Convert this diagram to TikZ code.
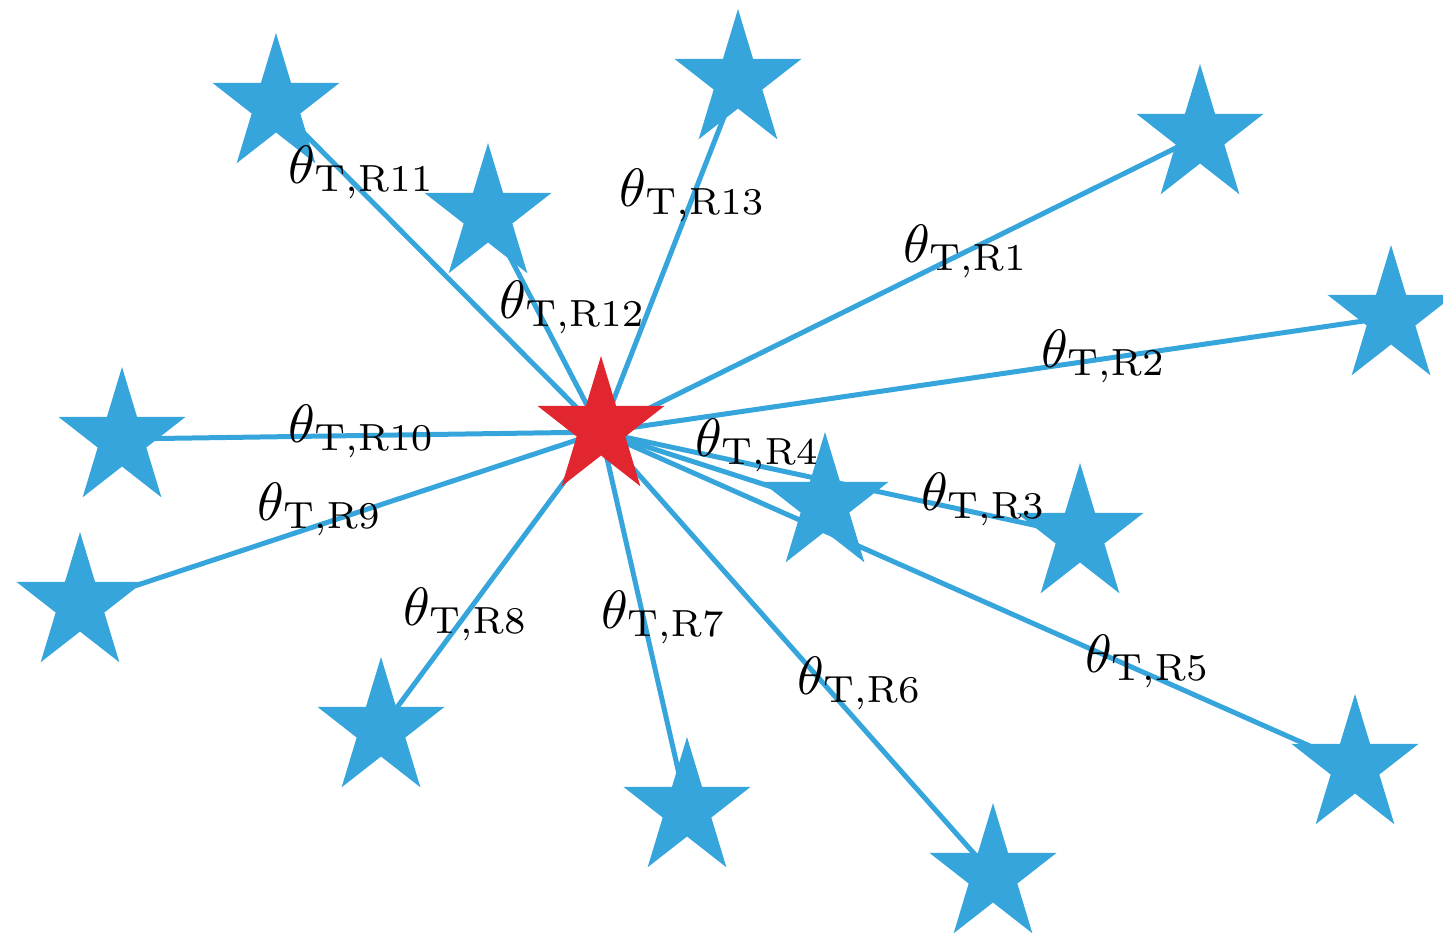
\documentclass[tikz,border=0pt]{standalone}
\usepackage{graphicx}
\usetikzlibrary{shapes.geometric,backgrounds}
\definecolor{starblue}{RGB}{54,165,220}
\definecolor{starred}{RGB}{226,38,48}
\tikzset{
  bstar/.style={star, star points=5, star point ratio=2.618, minimum size=72pt, inner sep=0pt, fill=starblue, draw=none, xscale=0.93, transform shape},
  rstar/.style={bstar, fill=starred},
  link/.style={draw=starblue, line width=2.5pt},
  lab/.style={inner sep=0pt}
}
\newcommand{\thlab}[1]{\scalebox{2.7}{$\theta_{\mathrm{T,R#1}}$}}
\begin{document}
\begin{tikzpicture}[x=0.5pt,y=-0.5pt]
\useasboundingbox (0,0) rectangle (1443,934);
\coordinate (pt) at (601,428);
\coordinate (p1) at (1200,136);
\coordinate (p2) at (1391,317);
\coordinate (p3) at (1080,535);
\coordinate (p4) at (825,504);
\coordinate (p5) at (1355,766);
\coordinate (p6) at (993,875);
\coordinate (p7) at (687,809);
\coordinate (p8) at (381,729);
\coordinate (p9) at (80,604);
\coordinate (p10) at (122,439);
\coordinate (p11) at (276,105);
\coordinate (p12) at (488,215);
\coordinate (p13) at (738,81);
\node[rstar] (t) at (pt) {};
\foreach \i in {1,...,13} \node[bstar] (r\i) at (p\i) {};
\begin{scope}[on background layer]
\foreach \i in {1,...,13} \draw[link] ([yshift=-2pt]t.center) -- (r\i.center);
\end{scope}
\node[lab] (l1) at (966,251) {\thlab{1}};
\node[lab] (l2) at (1104,356) {\thlab{2}};
\node[lab] (l3) at (984,499) {\thlab{3}};
\node[lab] (l4) at (758,445) {\thlab{4}};
\node[lab] (l5) at (1148,661) {\thlab{5}};
\node[lab] (l6) at (860,683) {\thlab{6}};
\node[lab] (l7) at (664,617) {\thlab{7}};
\node[lab] (l8) at (466,614) {\thlab{8}};
\node[lab] (l9) at (320,509) {\thlab{9}};
\node[lab] (l10) at (362,431) {\thlab{10}};
\node[lab] (l11) at (362,172) {\thlab{11}};
\node[lab] (l12) at (573,307) {\thlab{12}};
\node[lab] (l13) at (693,195) {\thlab{13}};
\end{tikzpicture}
\end{document}
